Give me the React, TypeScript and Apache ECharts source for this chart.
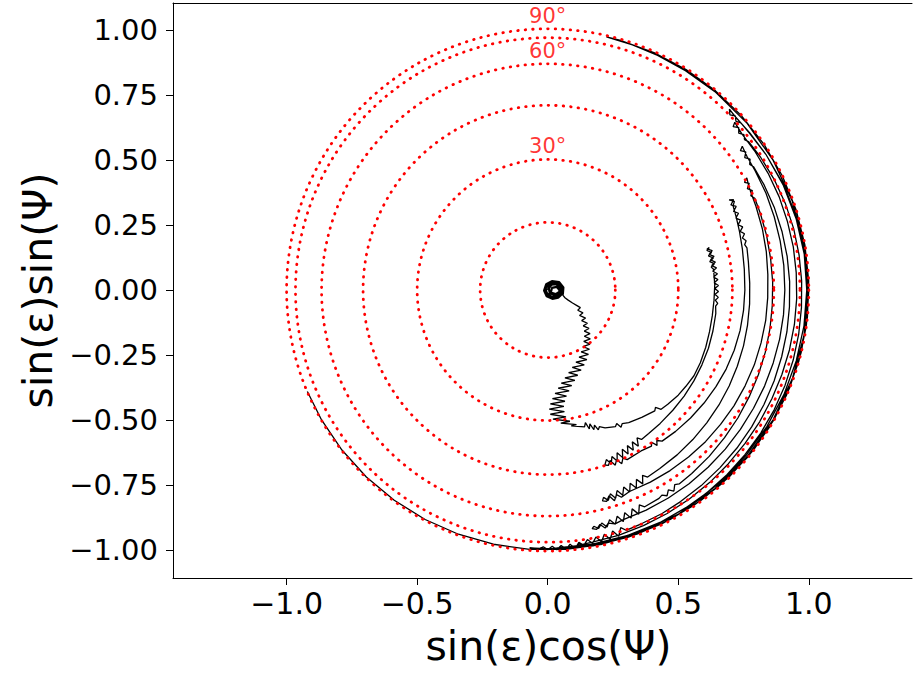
import React, { useEffect, useRef } from "react";
import * as echarts from "echarts";

// ---- axis ticks ----
const xTicks = [-1, -0.5, 0, 0.5, 1];
const yTicks = [-1, -0.75, -0.5, -0.25, 0, 0.25, 0.5, 0.75, 1];

// ---- reference obliquity circles (epsilon, degrees) ----
const circleEpsDeg = [15, 30, 45, 60, 75, 90];
const labelEpsDeg = [30, 60, 90];

// ---- trajectory, part 0: initial loops near the pole, [sinε cosΨ, sinε sinΨ] ----
const loopXY: number[][] = [
  [0.0, 0.0], [0.01, 0.022], [0.03, 0.026], [0.048, 0.014], [0.05, -0.008], [0.036, -0.024],
  [0.014, -0.026], [-0.004, -0.012], [-0.008, 0.008], [0.006, 0.024], [0.028, 0.028], [0.05, 0.018],
  [0.056, -0.004], [0.044, -0.024], [0.022, -0.03], [0.002, -0.02], [-0.01, 0.0], [-0.002, 0.02],
  [0.018, 0.03], [0.042, 0.026], [0.058, 0.008], [0.056, -0.014], [0.04, -0.03], [0.018, -0.034],
  [-0.004, -0.024], [-0.014, -0.002], [-0.006, 0.022], [0.016, 0.034], [0.044, 0.03], [0.06, 0.01],
  [0.058, -0.016], [0.042, -0.022], [0.026, -0.02], [0.008, -0.012], [0.004, 0.006], [0.014, 0.02],
  [0.032, 0.022], [0.046, 0.01], [0.044, -0.008], [0.03, -0.016], [0.012, -0.01], [0.016, 0.008],
  [0.034, 0.012], [0.05, -0.006], [0.058, -0.02],
];

// ---- trajectory, part 1: nutating descent, [sinε cosΨ, sinε sinΨ] ----
const descentXY: number[][] = [
  [0.058, -0.02], [0.066, -0.03], [0.077, -0.038], [0.095, -0.05], [0.112, -0.06],
  [0.125, -0.068], [0.115, -0.078], [0.135, -0.088], [0.122, -0.098], [0.145, -0.108], [0.13, -0.118],
  [0.152, -0.128], [0.136, -0.138], [0.158, -0.148], [0.14, -0.158], [0.162, -0.168], [0.14, -0.178],
  [0.163, -0.188], [0.138, -0.198], [0.162, -0.208], [0.135, -0.218], [0.16, -0.228], [0.128, -0.238],
  [0.156, -0.248], [0.12, -0.258], [0.15, -0.268], [0.108, -0.278], [0.14, -0.288], [0.094, -0.298],
  [0.128, -0.308], [0.08, -0.318], [0.115, -0.328], [0.066, -0.338], [0.104, -0.348], [0.052, -0.358],
  [0.092, -0.368], [0.04, -0.378], [0.082, -0.388], [0.028, -0.398], [0.072, -0.408], [0.018, -0.418],
  [0.066, -0.428], [0.01, -0.438], [0.062, -0.448], [0.006, -0.458], [0.064, -0.468], [0.01, -0.478],
  [0.07, -0.488], [0.02, -0.497], [0.085, -0.505], [0.05, -0.512], [0.11, -0.518], [0.09, -0.523],
];

// ---- trajectory, part 2: librating swings, [sinε, Ψ in degrees] ----
const swingsPolar: number[][] = [
  // first swing, upwards
  [0.545, -75], [0.53, -74.2], [0.558, -73.4], [0.54, -72.6], [0.566, -71.8], [0.55, -71], [0.572, -70.2],
  [0.562, -69.4], [0.574, -67.5], [0.586, -63.7], [0.578, -62.8], [0.598, -62], [0.588, -61],
  [0.597, -58.7], [0.608, -53.7], [0.62, -48.6], [0.612, -47.6], [0.632, -46.6], [0.636, -43.7],
  [0.643, -39], [0.646, -35], [0.65, -30.5], [0.648, -25.6], [0.644, -20], [0.64, -14.5], [0.638, -9],
  [0.638, -3.6], [0.64, 1.8], [0.64, 7.2],
  // top turn T0
  [0.632, 8], [0.646, 9], [0.63, 10], [0.646, 11], [0.629, 12], [0.644, 13], [0.628, 14], [0.64, 14.8],
  [0.63, 14.5], [0.648, 13.5], [0.633, 12.5], [0.65, 11.5], [0.634, 10.5], [0.651, 9.5], [0.635, 8.5],
  [0.652, 7.5], [0.636, 6.5], [0.653, 5.5], [0.637, 4.5], [0.653, 3.5], [0.638, 2.5], [0.654, 1.5],
  [0.64, 0.5], [0.654, -0.5], [0.641, -1.5], [0.654, -2.5], [0.643, -3.5], [0.653, -4.5], [0.646, -5.5],
  [0.65, -8], [0.652, -14], [0.655, -20], [0.657, -26], [0.66, -32], [0.663, -38], [0.666, -44],
  [0.67, -50], [0.674, -55], [0.678, -58],
  // bottom turn B1
  [0.664, -59], [0.694, -60], [0.668, -61], [0.698, -62], [0.672, -63], [0.702, -64], [0.676, -65],
  [0.706, -66], [0.68, -67], [0.71, -68], [0.686, -69], [0.712, -70], [0.69, -71], [0.708, -72],
  [0.714, -71], [0.698, -70], [0.722, -69], [0.704, -68], [0.726, -67], [0.708, -66], [0.72, -65],
  [0.715, -60], [0.72, -56.5], [0.708, -55.8], [0.73, -55], [0.714, -54.2], [0.728, -53],
  [0.732, -48], [0.736, -42], [0.74, -36],
  [0.744, -30], [0.748, -24], [0.751, -18], [0.753, -12], [0.754, -6], [0.755, 0], [0.757, 6],
  [0.762, 12], [0.768, 17], [0.774, 21], [0.78, 24.5],
  // top turn T1
  [0.792, 25.5], [0.776, 26.5], [0.792, 26], [0.774, 25], [0.79, 24], [0.773, 23], [0.788, 22],
  [0.772, 21], [0.786, 20], [0.771, 19], [0.785, 18], [0.771, 17], [0.784, 16], [0.772, 15],
  [0.783, 14], [0.774, 13], [0.78, 12],
  [0.776, 8], [0.774, 2], [0.775, -4], [0.777, -10], [0.78, -16], [0.783, -22], [0.787, -28],
  [0.791, -34], [0.795, -40], [0.8, -46], [0.805, -52], [0.81, -58], [0.815, -62],
  // bottom turn B2
  [0.8, -63], [0.83, -64], [0.804, -65], [0.834, -66], [0.808, -67], [0.838, -68], [0.812, -69],
  [0.84, -70], [0.816, -71], [0.842, -72], [0.82, -73], [0.842, -74], [0.826, -75], [0.838, -75.5],
  [0.844, -74.5], [0.826, -73.5], [0.85, -72.5], [0.83, -71.5], [0.846, -70.5], [0.836, -68],
  [0.837, -62], [0.838, -56], [0.839, -50], [0.84, -44], [0.84, -38],
  [0.841, -32], [0.841, -26], [0.842, -20], [0.842, -14], [0.843, -8], [0.843, -2], [0.845, 4],
  [0.85, 10], [0.855, 16], [0.86, 22], [0.866, 27],
  // top turn T2
  [0.876, 29.5], [0.86, 28.8], [0.874, 28], [0.858, 27], [0.872, 26], [0.858, 25], [0.868, 24],
  [0.866, 20], [0.864, 14], [0.862, 8], [0.862, 2], [0.862, -4], [0.864, -10], [0.867, -16],
  [0.87, -22], [0.874, -28], [0.879, -34], [0.884, -40], [0.89, -46], [0.896, -52], [0.9, -56],
  [0.893, -57], [0.912, -58], [0.897, -59], [0.914, -60], [0.902, -61], [0.908, -62], [0.913, -66],
  // bottom turn B3
  [0.898, -67], [0.93, -68], [0.902, -69], [0.934, -70], [0.906, -71], [0.937, -72], [0.91, -73],
  [0.938, -74], [0.915, -75], [0.94, -76], [0.92, -77], [0.938, -78], [0.926, -79], [0.934, -79.5],
  [0.94, -78.5], [0.924, -77.5], [0.942, -76.5], [0.926, -75.5], [0.936, -74],
  [0.93, -72], [0.927, -66], [0.924, -60], [0.921, -54], [0.918, -48], [0.915, -42],
  [0.912, -36], [0.91, -30], [0.909, -24], [0.908, -18], [0.908, -12], [0.908, -6], [0.908, 0],
  [0.909, 6], [0.91, 12], [0.912, 18], [0.915, 24], [0.917, 30], [0.92, 34],
  // top turn T3
  [0.928, 36.6], [0.912, 36], [0.926, 35], [0.91, 34], [0.924, 33], [0.912, 32], [0.92, 31],
  [0.922, 26], [0.924, 20], [0.925, 14], [0.926, 8], [0.927, 2], [0.928, -4], [0.93, -10],
  [0.932, -16], [0.935, -22], [0.938, -28], [0.942, -34], [0.946, -40], [0.95, -46], [0.955, -52],
  [0.96, -58], [0.965, -63], [0.968, -68], [0.972, -72],
  // bottom turn B4
  [0.956, -73], [0.986, -74], [0.96, -75], [0.988, -76], [0.964, -77], [0.99, -78], [0.968, -79],
  [0.99, -80], [0.972, -81], [0.992, -82], [0.978, -83], [0.99, -83.5],
  [0.985, -80], [0.982, -74], [0.978, -68], [0.974, -62], [0.97, -56], [0.966, -50], [0.962, -44],
  [0.959, -38], [0.957, -32], [0.955, -26], [0.954, -20], [0.954, -14], [0.954, -8], [0.954, -2],
  [0.954, 4], [0.955, 10], [0.955, 16], [0.956, 22], [0.956, 28], [0.956, 34], [0.956, 39],
  // top turn T4
  [0.964, 42], [0.948, 41.5], [0.962, 40.5], [0.948, 39.5], [0.96, 38.5], [0.95, 37.5], [0.958, 36.5],
  [0.962, 32], [0.966, 26], [0.969, 20], [0.971, 14], [0.972, 8], [0.973, 2], [0.974, -4],
  [0.976, -10], [0.978, -16], [0.98, -22], [0.982, -28], [0.984, -34], [0.986, -40], [0.988, -46],
  [0.99, -52], [0.991, -58], [0.992, -64], [0.993, -70], [0.994, -76], [0.994, -82],
  // bottom turn B5
  [0.982, -83], [1.0, -84], [0.982, -85], [1.0, -86], [0.984, -87], [1.0, -88], [0.986, -89],
  [0.999, -90], [0.988, -91], [0.998, -92],
  [0.993, -88], [0.993, -80], [0.993, -72], [0.992, -64], [0.992, -56], [0.992, -48], [0.991, -40],
  [0.99, -32], [0.99, -24], [0.99, -16], [0.991, -8], [0.992, 0], [0.992, 8], [0.99, 16], [0.988, 24],
  [0.985, 32], [0.982, 38], [0.98, 43],
  // top turn T5
  [0.984, 45], [0.97, 44], [0.982, 43], [0.97, 42], [0.98, 41],
  [0.98, 38], [0.985, 32], [0.99, 24], [0.994, 16], [0.997, 8], [1.0, 0], [1.0, -8], [1.0, -16],
  [1.0, -24], [1.0, -32], [1.0, -40], [1.0, -48], [1.0, -56], [1.0, -64], [1.0, -72], [1.0, -80],
  [0.998, -88], [0.995, -94],
  [0.996, -90], [0.997, -80], [0.997, -70], [0.997, -60], [0.997, -50], [0.997, -40], [0.997, -30],
  [0.997, -20], [0.997, -10], [0.997, 0], [0.997, 10], [0.997, 20], [0.997, 30], [0.997, 40],
  [0.996, 50], [0.995, 58], [0.996, 65], [0.997, 71], [0.999, 77],
  // final sweep along ε = 90°
  [1.0, 74], [1.0, 66], [1.0, 58], [1.0, 50], [1.0, 42], [1.0, 34], [1.0, 26], [1.0, 18], [1.0, 10],
  [1.0, 2], [1.0, -6], [1.0, -14], [1.0, -22], [1.0, -30], [1.0, -38], [1.0, -46], [1.0, -54],
  [1.0, -62], [1.0, -70], [1.0, -78], [1.0, -86], [1.0, -94], [1.0, -102], [1.0, -110], [1.0, -118],
  [1.0, -126], [1.0, -134], [1.0, -142], [1.0, -150], [1.0, -157],
];

const FONT = "DejaVu Sans";
const D2R = Math.PI / 180;

const fmt = (digits: number) => (v: number) =>
  (v < 0 ? "\u2212" : "") + Math.abs(v).toFixed(digits);

export default function App() {
  const ref = useRef<HTMLDivElement>(null);

  useEffect(() => {
    if (!ref.current) return;
    const chart = echarts.init(ref.current, undefined, { renderer: "svg" });

    const trajectory = [
      ...descentXY,
      ...swingsPolar.map(([s, psi]) => [s * Math.cos(psi * D2R), s * Math.sin(psi * D2R)]),
    ];
    const circles = circleEpsDeg.map((e) => [Math.sin(e * D2R), 0]);
    const labels = labelEpsDeg.map((e) => ({ value: [0, Math.sin(e * D2R)], name: `${e}°` }));

    const axisCommon = {
      axisLine: { show: true, onZero: false, lineStyle: { color: "#000", width: 1 } },
      splitLine: { show: false },
    };

    chart.setOption({
      animation: false,
      backgroundColor: "#fff",
      grid: { left: 173, right: 1, top: 3, bottom: 96, containLabel: false },
      xAxis: [
        {
          type: "value",
          min: -1.435,
          max: 1.395,
          position: "bottom",
          ...axisCommon,
          axisTick: { show: true, customValues: xTicks, length: 7, lineStyle: { color: "#000", width: 1 } },
          axisLabel: {
            customValues: xTicks,
            formatter: fmt(1),
            color: "#000",
            fontSize: 30,
            fontFamily: FONT,
            margin: 10,
          },
          name: "sin(ε)cos(Ψ)",
          nameLocation: "middle",
          nameGap: 47,
          nameTextStyle: { fontSize: 41, color: "#000", fontFamily: FONT, padding: [0, 0, 0, 12] },
        },
        {
          type: "value",
          min: -1.435,
          max: 1.395,
          position: "top",
          ...axisCommon,
          axisTick: { show: false },
          axisLabel: { show: false },
        },
      ],
      yAxis: {
        type: "value",
        min: -1.108,
        max: 1.104,
        ...axisCommon,
        axisTick: { show: true, customValues: yTicks, length: 7, lineStyle: { color: "#000", width: 1 } },
        axisLabel: {
          customValues: yTicks,
          formatter: fmt(2),
          color: "#000",
          fontSize: 29,
          fontFamily: FONT,
          margin: 15,
        },
        name: "sin(ε)sin(Ψ)",
        nameLocation: "middle",
        nameGap: 108,
        nameRotate: 90,
        nameTextStyle: { fontSize: 41, color: "#000", fontFamily: FONT },
      },
      series: [
        {
          type: "line",
          data: loopXY,
          showSymbol: false,
          symbol: "none",
          lineStyle: { color: "#000", width: 2.2 },
          z: 2,
          silent: true,
        },
        {
          type: "line",
          data: trajectory,
          showSymbol: false,
          symbol: "none",
          lineStyle: { color: "#000", width: 1.3 },
          z: 2,
          silent: true,
        },
        {
          type: "custom",
          data: circles,
          encode: { x: 0, y: 1 },
          z: 3,
          silent: true,
          renderItem: (params: any, api: any) => {
            const c = api.coord([0, 0]);
            const e = api.coord([api.value(0), 0]);
            return {
              type: "circle",
              shape: { cx: c[0], cy: c[1], r: e[0] - c[0] },
              style: {
                fill: "none",
                stroke: "#ff0000",
                lineWidth: 2.8,
                lineDash: [0.5, 7],
                lineCap: "round",
              },
            };
          },
        },
        {
          type: "scatter",
          data: labels,
          symbolSize: 1,
          itemStyle: { color: "rgba(0,0,0,0)" },
          z: 4,
          silent: true,
          label: {
            show: true,
            position: "top",
            distance: 3,
            formatter: (p: any) => p.name,
            color: "#ff0000",
            fontSize: 21,
            fontFamily: FONT,
          },
        },
      ],
    });

    return () => chart.dispose();
  }, []);

  return (
    <div
      ref={ref}
      style={{ position: "fixed", left: 0, top: 0, width: 913, height: 674, background: "#fff" }}
    />
  );
}
